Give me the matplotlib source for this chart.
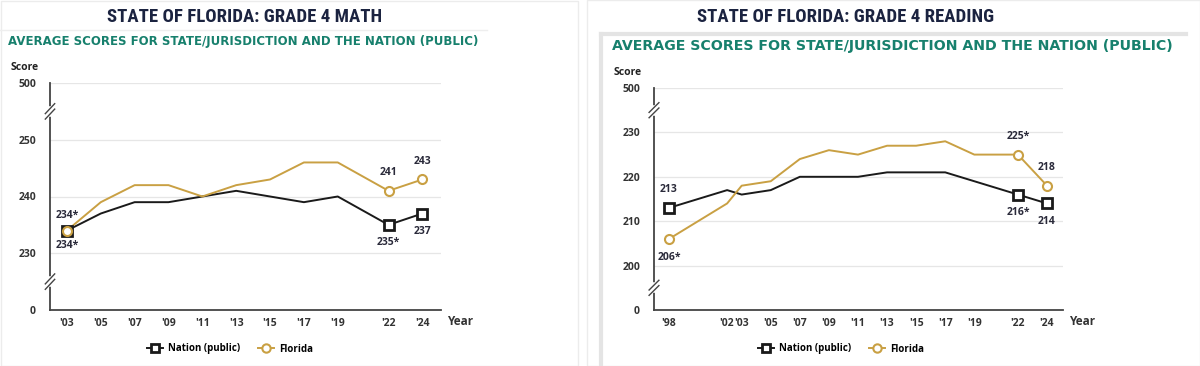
import numpy as np
import matplotlib
matplotlib.use("Agg")
import matplotlib.pyplot as plt
from matplotlib import font_manager
from matplotlib.lines import Line2D
from matplotlib.patches import Rectangle

# ---- data ----
math_years = [2003, 2005, 2007, 2009, 2011, 2013, 2015, 2017, 2019, 2022, 2024]
math_nation = [234, 237, 239, 239, 240, 241, 240, 239, 240, 235, 237]
math_florida = [234, 239, 242, 242, 240, 242, 243, 246, 246, 241, 243]
math_ticks = [0, 230, 240, 250, 500]
math_xlabels = ["'03", "'05", "'07", "'09", "'11", "'13", "'15", "'17", "'19", "'22", "'24"]

read_years = [1998, 2002, 2003, 2005, 2007, 2009, 2011, 2013, 2015, 2017, 2019, 2022, 2024]
read_nation = [213, 217, 216, 217, 220, 220, 220, 221, 221, 221, 219, 216, 214]
read_florida = [206, 214, 218, 219, 224, 226, 225, 227, 227, 228, 225, 225, 218]
read_ticks = [0, 200, 210, 220, 230, 500]
read_xlabels = ["'98", "'02", "'03", "'05", "'07", "'09", "'11", "'13", "'15", "'17", "'19", "'22", "'24"]

GOLD = '#c9a043'
BLACK = '#1a1a1a'
TEAL = '#17806d'
NAVY = '#1b2340'
LABEL = '#2a2a3a'

# narrow font for the titles if one is around
names = {f.name for f in font_manager.fontManager.ttflist}
narrow = [n for n in ['Roboto Condensed', 'DejaVu Sans Condensed', 'Liberation Sans Narrow',
                      'Open Sans Condensed', 'Noto Sans Condensed'] if n in names]
if narrow:
    title_font, title_size = [narrow[0], 'DejaVu Sans'], 13.5
else:
    title_font, title_size = ['DejaVu Sans'], 10

W, H = 1200, 366
fig = plt.figure(figsize=(W / 100, H / 100), dpi=100)
fig.patch.set_facecolor('white')


def px(x0, y0, x1, y1):
    # pixel box (top-left origin) -> figure fraction rect
    return [x0 / W, 1 - y1 / H, (x1 - x0) / W, (y1 - y0) / H]


def broken_scale(ticks):
    # ticks are drawn evenly spaced, giving the broken axis of the original
    pos = np.arange(len(ticks), dtype=float)
    fwd = lambda v: np.interp(v, ticks, pos)
    inv = lambda p: np.interp(p, pos, ticks)
    return fwd, inv


def panel(rect, years, nation, florida, ticks, xlabels, xlim,
          labels_fl, labels_na, marked):
    ax = fig.add_axes(rect)
    fwd, inv = broken_scale(ticks)
    ax.set_yscale('function', functions=(fwd, inv))
    ax.set_ylim(0, 500)
    ax.set_xlim(*xlim)
    ax.set_yticks(ticks)
    ax.set_yticklabels([str(t) for t in ticks])
    ax.set_xticks(years)
    ax.set_xticklabels(xlabels)
    ax.yaxis.set_minor_locator(matplotlib.ticker.NullLocator())
    ax.tick_params(axis='y', length=0, pad=10, labelsize=7.5, labelcolor='#333333')
    ax.tick_params(axis='x', length=0, pad=6, labelsize=7.5, labelcolor='#333333')
    for lab in ax.get_xticklabels() + ax.get_yticklabels():
        lab.set_fontweight('bold')
        lab.set_family('Open Sans')
    for t in ticks[1:]:
        ax.axhline(t, color='#e6e6e6', lw=0.9, zorder=0)
    for s in ['top', 'right']:
        ax.spines[s].set_visible(False)
    ax.spines['left'].set_color('#444444')
    ax.spines['bottom'].set_color('#444444')
    ax.spines['left'].set_linewidth(1.3)
    ax.spines['bottom'].set_linewidth(1.3)

    ax.plot(years, nation, color=BLACK, lw=1.4, zorder=3)
    ax.plot(years, florida, color=GOLD, lw=1.4, zorder=3)
    idx = [years.index(y) for y in marked]
    ax.plot([years[i] for i in idx], [nation[i] for i in idx], 's', ms=6.5,
            mfc='white', mec=BLACK, mew=2, zorder=4)
    ax.plot([years[i] for i in idx], [florida[i] for i in idx], 'o', ms=6.5,
            mfc='white', mec=GOLD, mew=1.5, zorder=5)

    for i, txt, dy in labels_fl:
        ax.annotate(txt, (years[i], florida[i]), xytext=(0, dy), textcoords='offset points',
                    ha='center', va='center', fontsize=7.5, fontweight='bold',
                    color=LABEL, family='Open Sans')
    for i, txt, dy in labels_na:
        ax.annotate(txt, (years[i], nation[i]), xytext=(0, dy), textcoords='offset points',
                    ha='center', va='center', fontsize=7.5, fontweight='bold',
                    color=LABEL, family='Open Sans')

    # break marks on the y axis
    npos = len(ticks) - 1
    for p in [0.5, npos - 0.5]:
        yf = p / npos
        ax.plot([0, 0], [yf - 0.012, yf + 0.012], transform=ax.transAxes,
                color='white', lw=4, clip_on=False, zorder=6)
        for off in (-0.012, 0.012):
            ax.plot([-0.012, 0.012], [yf + off - 0.022, yf + off + 0.022],
                    transform=ax.transAxes, color='#444444', lw=1,
                    clip_on=False, zorder=7)

    ax.text(1.015, -0.05, 'Year', transform=ax.transAxes, ha='left', va='center',
            fontsize=8.5, fontweight='bold', color='#333333', family='Open Sans')
    ax.text(-0.1, 1.07, 'Score', transform=ax.transAxes, ha='left', va='center',
            fontsize=7.5, fontweight='bold', color='#222222', family='Open Sans')
    return ax


# panel frames
fig.add_artist(Rectangle((1 / W, 0), 577 / W, 1 - 1 / H, transform=fig.transFigure,
                         fill=False, ec='#ececec', lw=1))
fig.add_artist(Line2D([0, 487 / W], [1 - 30 / H] * 2, transform=fig.transFigure,
                      color='#eeeeee', lw=1))
fig.add_artist(Rectangle((587 / W, 0), 613 / W, 1, transform=fig.transFigure,
                         fill=False, ec='#ececec', lw=1))
fig.add_artist(Line2D([601 / W, 1186 / W], [1 - 34 / H] * 2, transform=fig.transFigure,
                      color='#e4e4e4', lw=3))
fig.add_artist(Line2D([601 / W, 601 / W], [0, 1 - 34 / H], transform=fig.transFigure,
                      color='#e4e4e4', lw=3))

# titles
for x, txt in [(245, 'STATE OF FLORIDA: GRADE 4 MATH'), (846, 'STATE OF FLORIDA: GRADE 4 READING')]:
    fig.text(x / W, 1 - 17 / H, txt, ha='center', va='center', fontsize=title_size,
             fontweight='bold', color=NAVY, family=title_font)
fig.text(8 / W, 1 - 41 / H, 'AVERAGE SCORES FOR STATE/JURISDICTION AND THE NATION (PUBLIC)',
         ha='left', va='center', fontsize=8.5, fontweight='bold', color=TEAL)
fig.text(612 / W, 1 - 46 / H, 'AVERAGE SCORES FOR STATE/JURISDICTION AND THE NATION (PUBLIC)',
         ha='left', va='center', fontsize=10.2, fontweight='bold', color=TEAL)

ax1 = panel(px(50, 83, 441, 310), math_years, math_nation, math_florida,
            math_ticks, math_xlabels, (2002.0, 2025.1),
            labels_fl=[(0, '234*', 11), (9, '241', 13), (10, '243', 13)],
            labels_na=[(0, '234*', -11), (9, '235*', -13), (10, '237', -13)],
            marked=[2003, 2022, 2024])
ax2 = panel(px(654, 88, 1063, 310), read_years, read_nation, read_florida,
            read_ticks, read_xlabels, (1996.97, 2025.1),
            labels_fl=[(0, '206*', -13), (11, '225*', 13), (12, '218', 13)],
            labels_na=[(0, '213', 13), (11, '216*', -13), (12, '214', -13)],
            marked=[1998, 2022, 2024])

handles = [Line2D([], [], color=BLACK, lw=1.4, marker='s', ms=6, mfc='white', mec=BLACK, mew=2),
           Line2D([], [], color=GOLD, lw=1.4, marker='o', ms=6, mfc='white', mec=GOLD, mew=1.5)]
for cx in (230, 841):
    fig.legend(handles, ['Nation (public)', 'Florida'], loc='center',
               bbox_to_anchor=(cx / W, 1 - 349 / H), ncol=2, frameon=False,
               handlelength=1.6, columnspacing=1.9, handletextpad=0.5,
               prop={'family': 'Open Sans', 'weight': 'bold', 'size': 7})

fig.savefig('out.png', dpi=100, facecolor='white')
